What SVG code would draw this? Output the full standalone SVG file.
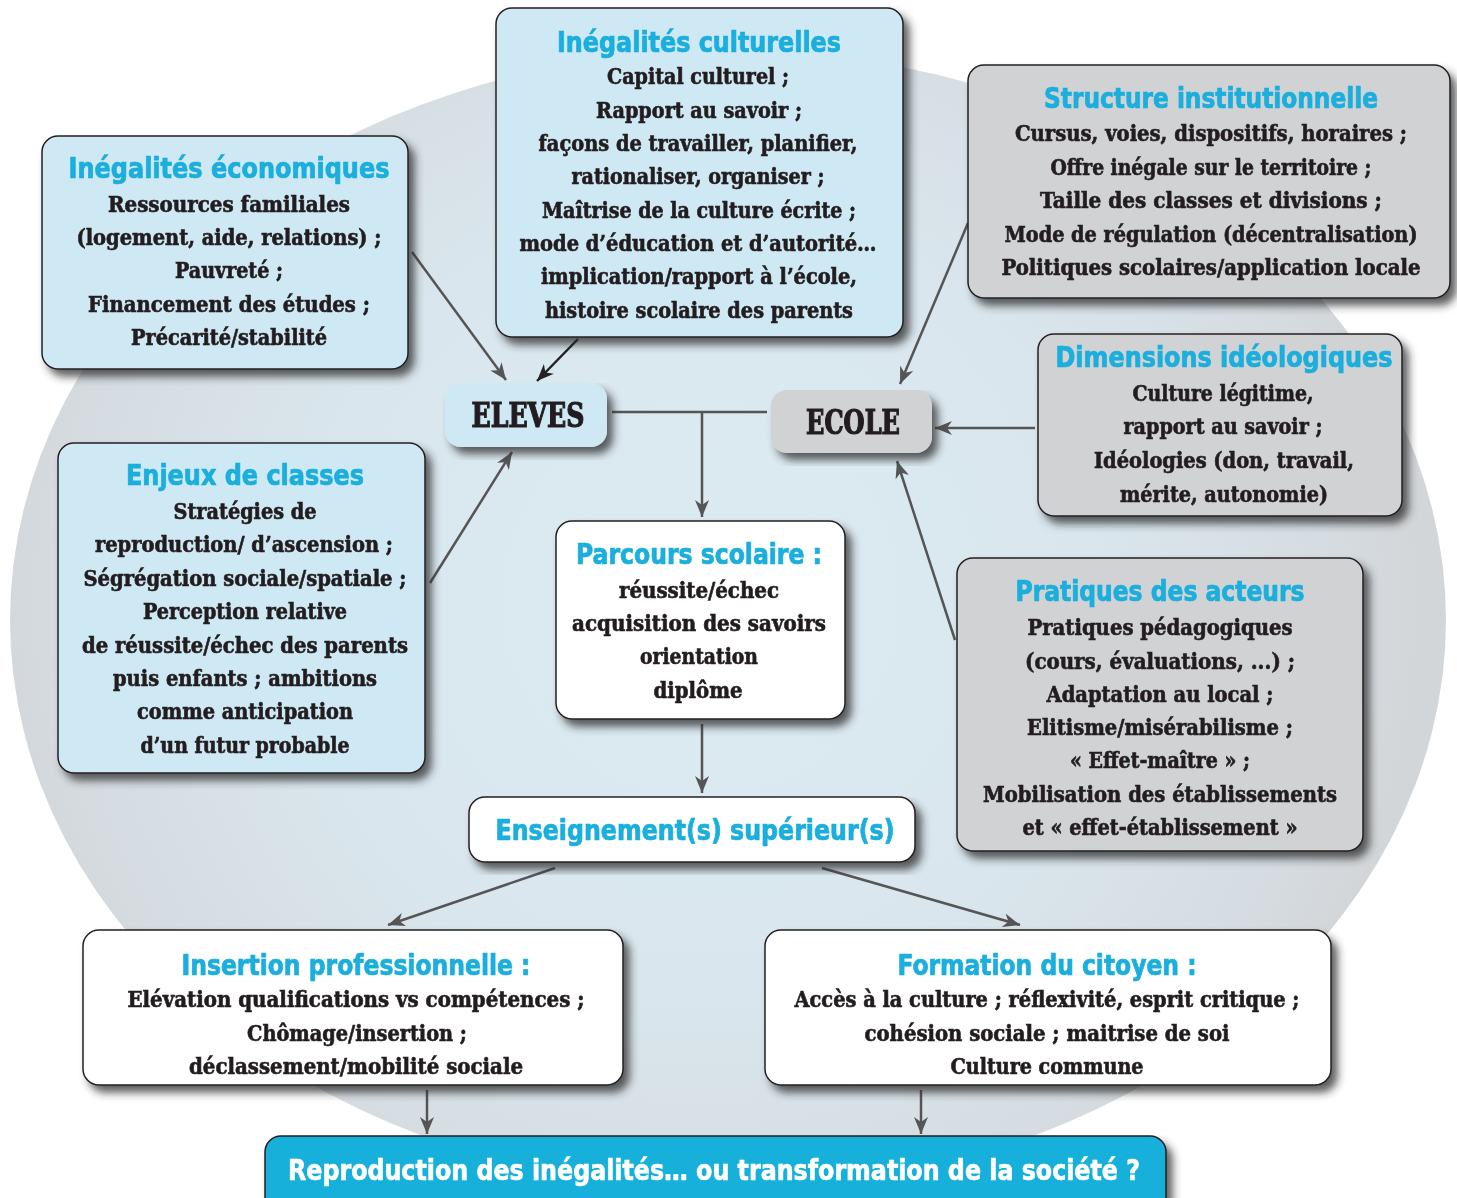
<svg xmlns="http://www.w3.org/2000/svg" width="1457" height="1198" viewBox="0 0 1457 1198">
<defs>
  <radialGradient id="bg" cx="700" cy="600" r="720" gradientUnits="userSpaceOnUse">
    <stop offset="0" stop-color="#dcebf3"/>
    <stop offset="0.55" stop-color="#d9e6ed"/>
    <stop offset="0.85" stop-color="#d6dde2"/>
    <stop offset="1" stop-color="#d3d6d9"/>
  </radialGradient>
  <filter id="sh" x="-10%" y="-10%" width="125%" height="130%">
    <feGaussianBlur in="SourceAlpha" stdDeviation="4"/>
    <feOffset dx="6" dy="7" result="o"/>
    <feFlood flood-color="#2a2a2a" flood-opacity="0.75"/>
    <feComposite in2="o" operator="in"/>
    <feMerge><feMergeNode/><feMergeNode in="SourceGraphic"/></feMerge>
  </filter>
  <marker id="ah" markerUnits="userSpaceOnUse" markerWidth="18" markerHeight="14" refX="17" refY="7" orient="auto">
    <path d="M0,0 L17,7 L0,14 L5,7 z" fill="#555"/>
  </marker>
  <marker id="ahk" markerUnits="userSpaceOnUse" markerWidth="18" markerHeight="14" refX="17" refY="7" orient="auto">
    <path d="M0,0 L17,7 L0,14 L5,7 z" fill="#222"/>
  </marker>
  <style>
    .blue{fill:#cfe9f4;stroke:#231f20;stroke-width:1.5}
    .gray{fill:#d1d2d4;stroke:#231f20;stroke-width:1.5}
    .white{fill:#ffffff;stroke:#231f20;stroke-width:1.5}
    .t{font-family:"DejaVu Sans Condensed","DejaVu Sans",sans-serif;font-weight:bold;font-size:28px;fill:#1aaedc;stroke:#1aaedc;stroke-width:0.7px;text-anchor:middle}
    .b{font-family:"DejaVu Serif Condensed","DejaVu Serif",serif;font-weight:bold;font-size:22px;fill:#231f20;stroke:#231f20;stroke-width:0.6px;text-anchor:middle}
    .big{font-family:"DejaVu Serif Condensed","DejaVu Serif",serif;font-weight:bold;font-size:33px;fill:#231f20;stroke:#231f20;stroke-width:1.2px;text-anchor:middle}
    .w{font-family:"DejaVu Sans Condensed","DejaVu Sans",sans-serif;font-weight:bold;font-size:28px;fill:#ffffff;stroke:#ffffff;stroke-width:0.6px;text-anchor:middle}
    .c{stroke:#555;stroke-width:2.5;fill:none}
  </style>
</defs>

<rect width="1457" height="1198" fill="#ffffff"/>
<ellipse cx="728" cy="620" rx="718" ry="570" fill="url(#bg)"/>

<g id="connectors">
  <line class="c" x1="412" y1="252" x2="506" y2="380" marker-end="url(#ah)"/>
  <line class="c" x1="578" y1="339" x2="537" y2="381" style="stroke:#222" marker-end="url(#ahk)"/>
  <line class="c" x1="430" y1="583" x2="512" y2="452" marker-end="url(#ah)"/>
  <line class="c" x1="968" y1="223" x2="900" y2="384" marker-end="url(#ah)"/>
  <line class="c" x1="1035" y1="428" x2="935" y2="428" marker-end="url(#ah)"/>
  <line class="c" x1="955" y1="640" x2="897" y2="461" marker-end="url(#ah)"/>
  <line class="c" x1="612" y1="412" x2="767" y2="412"/>
  <line class="c" x1="702" y1="412" x2="702" y2="517" marker-end="url(#ah)"/>
  <line class="c" x1="702" y1="724" x2="702" y2="793" marker-end="url(#ah)"/>
  <line class="c" x1="555" y1="868" x2="388" y2="925" marker-end="url(#ah)"/>
  <line class="c" x1="822" y1="868" x2="1020" y2="925" marker-end="url(#ah)"/>
  <line class="c" x1="427" y1="1090" x2="427" y2="1134" marker-end="url(#ah)"/>
  <line class="c" x1="921" y1="1090" x2="921" y2="1134" marker-end="url(#ah)"/>
</g>

<g id="inegalites-economiques" filter="url(#sh)">
  <rect class="blue" x="42" y="136" width="366" height="233" rx="16"/>
  <text class="t" x="229" y="178" textLength="321" lengthAdjust="spacingAndGlyphs">Inégalités économiques</text>
  <text class="b" x="229" y="212" textLength="242" lengthAdjust="spacingAndGlyphs">Ressources familiales</text>
  <text class="b" x="229" y="245" textLength="305" lengthAdjust="spacingAndGlyphs">(logement, aide, relations) ;</text>
  <text class="b" x="229" y="278" textLength="108" lengthAdjust="spacingAndGlyphs">Pauvreté ;</text>
  <text class="b" x="229" y="312" textLength="282" lengthAdjust="spacingAndGlyphs">Financement des études ;</text>
  <text class="b" x="229" y="345" textLength="196" lengthAdjust="spacingAndGlyphs">Précarité/stabilité</text>
</g>

<g id="inegalites-culturelles" filter="url(#sh)">
  <rect class="blue" x="496" y="8" width="407" height="329" rx="16"/>
  <text class="t" x="699" y="52" textLength="284" lengthAdjust="spacingAndGlyphs">Inégalités culturelles</text>
  <text class="b" x="698" y="84" textLength="182" lengthAdjust="spacingAndGlyphs">Capital culturel ;</text>
  <text class="b" x="699" y="118" textLength="206" lengthAdjust="spacingAndGlyphs">Rapport au savoir ;</text>
  <text class="b" x="698" y="151" textLength="319" lengthAdjust="spacingAndGlyphs">façons de travailler, planifier,</text>
  <text class="b" x="698" y="184" textLength="253" lengthAdjust="spacingAndGlyphs">rationaliser, organiser ;</text>
  <text class="b" x="699" y="218" textLength="314" lengthAdjust="spacingAndGlyphs">Maîtrise de la culture écrite ;</text>
  <text class="b" x="698" y="251" textLength="357" lengthAdjust="spacingAndGlyphs">mode d’éducation et d’autorité…</text>
  <text class="b" x="699" y="284" textLength="316" lengthAdjust="spacingAndGlyphs">implication/rapport à l’école,</text>
  <text class="b" x="699" y="318" textLength="308" lengthAdjust="spacingAndGlyphs">histoire scolaire des parents</text>
</g>

<g id="structure-institutionnelle" filter="url(#sh)">
  <rect class="gray" x="968" y="65" width="482" height="233" rx="16"/>
  <text class="t" x="1211" y="108" textLength="334" lengthAdjust="spacingAndGlyphs">Structure institutionnelle</text>
  <text class="b" x="1211" y="141" textLength="392" lengthAdjust="spacingAndGlyphs">Cursus, voies, dispositifs, horaires ;</text>
  <text class="b" x="1211" y="175" textLength="321" lengthAdjust="spacingAndGlyphs">Offre inégale sur le territoire ;</text>
  <text class="b" x="1211" y="208" textLength="342" lengthAdjust="spacingAndGlyphs">Taille des classes et divisions ;</text>
  <text class="b" x="1211" y="242" textLength="413" lengthAdjust="spacingAndGlyphs">Mode de régulation (décentralisation)</text>
  <text class="b" x="1211" y="275" textLength="419" lengthAdjust="spacingAndGlyphs">Politiques scolaires/application locale</text>
</g>

<g id="dimensions-ideologiques" filter="url(#sh)">
  <rect class="gray" x="1038" y="334" width="364" height="182" rx="16"/>
  <text class="t" x="1224" y="367" textLength="337" lengthAdjust="spacingAndGlyphs">Dimensions idéologiques</text>
  <text class="b" x="1223" y="401" textLength="181" lengthAdjust="spacingAndGlyphs">Culture légitime,</text>
  <text class="b" x="1223" y="434" textLength="199" lengthAdjust="spacingAndGlyphs">rapport au savoir ;</text>
  <text class="b" x="1224" y="468" textLength="260" lengthAdjust="spacingAndGlyphs">Idéologies (don, travail,</text>
  <text class="b" x="1224" y="502" textLength="208" lengthAdjust="spacingAndGlyphs">mérite, autonomie)</text>
</g>

<g id="eleves" filter="url(#sh)">
  <rect x="445" y="383" width="162" height="64" rx="16" fill="#cfe9f4"/>
  <text class="big" x="528" y="427" textLength="113" lengthAdjust="spacingAndGlyphs">ELEVES</text>
</g>

<g id="ecole" filter="url(#sh)">
  <rect x="771" y="390" width="161" height="63" rx="16" fill="#d1d2d4"/>
  <text class="big" x="853" y="434" textLength="94" lengthAdjust="spacingAndGlyphs">ECOLE</text>
</g>

<g id="enjeux-de-classes" filter="url(#sh)">
  <rect class="blue" x="58" y="443" width="367" height="330" rx="16"/>
  <text class="t" x="245" y="485" textLength="238" lengthAdjust="spacingAndGlyphs">Enjeux de classes</text>
  <text class="b" x="245" y="519" textLength="143" lengthAdjust="spacingAndGlyphs">Stratégies de</text>
  <text class="b" x="244" y="552" textLength="298" lengthAdjust="spacingAndGlyphs">reproduction/ d’ascension ;</text>
  <text class="b" x="245" y="586" textLength="323" lengthAdjust="spacingAndGlyphs">Ségrégation sociale/spatiale ;</text>
  <text class="b" x="245" y="619" textLength="204" lengthAdjust="spacingAndGlyphs">Perception relative</text>
  <text class="b" x="245" y="653" textLength="326" lengthAdjust="spacingAndGlyphs">de réussite/échec des parents</text>
  <text class="b" x="245" y="686" textLength="264" lengthAdjust="spacingAndGlyphs">puis enfants ; ambitions</text>
  <text class="b" x="245" y="719" textLength="216" lengthAdjust="spacingAndGlyphs">comme anticipation</text>
  <text class="b" x="245" y="753" textLength="209" lengthAdjust="spacingAndGlyphs">d’un futur probable</text>
</g>

<g id="parcours-scolaire" filter="url(#sh)">
  <rect class="white" x="556" y="521" width="289" height="198" rx="16"/>
  <text class="t" x="699" y="564" textLength="246" lengthAdjust="spacingAndGlyphs">Parcours scolaire :</text>
  <text class="b" x="699" y="598" textLength="160" lengthAdjust="spacingAndGlyphs">réussite/échec</text>
  <text class="b" x="699" y="631" textLength="254" lengthAdjust="spacingAndGlyphs">acquisition des savoirs</text>
  <text class="b" x="699" y="664" textLength="118" lengthAdjust="spacingAndGlyphs">orientation</text>
  <text class="b" x="698" y="698" textLength="89" lengthAdjust="spacingAndGlyphs">diplôme</text>
</g>

<g id="pratiques-des-acteurs" filter="url(#sh)">
  <rect class="gray" x="957" y="558" width="406" height="293" rx="16"/>
  <text class="t" x="1160" y="601" textLength="289" lengthAdjust="spacingAndGlyphs">Pratiques des acteurs</text>
  <text class="b" x="1160" y="635" textLength="265" lengthAdjust="spacingAndGlyphs">Pratiques pédagogiques</text>
  <text class="b" x="1160" y="669" textLength="270" lengthAdjust="spacingAndGlyphs">(cours, évaluations, ...) ;</text>
  <text class="b" x="1160" y="702" textLength="227" lengthAdjust="spacingAndGlyphs">Adaptation au local ;</text>
  <text class="b" x="1160" y="735" textLength="266" lengthAdjust="spacingAndGlyphs">Elitisme/misérabilisme ;</text>
  <text class="b" x="1160" y="768" textLength="180" lengthAdjust="spacingAndGlyphs">« Effet-maître » ;</text>
  <text class="b" x="1160" y="802" textLength="354" lengthAdjust="spacingAndGlyphs">Mobilisation des établissements</text>
  <text class="b" x="1160" y="835" textLength="275" lengthAdjust="spacingAndGlyphs">et « effet-établissement »</text>
</g>

<g id="enseignement-superieur" filter="url(#sh)">
  <rect class="white" x="469" y="797" width="446" height="65" rx="16"/>
  <text class="t" x="695" y="840" textLength="399" lengthAdjust="spacingAndGlyphs">Enseignement(s) supérieur(s)</text>
</g>

<g id="insertion-professionnelle" filter="url(#sh)">
  <rect class="white" x="83" y="930" width="540" height="155" rx="16"/>
  <text class="t" x="356" y="975" textLength="349" lengthAdjust="spacingAndGlyphs">Insertion professionnelle :</text>
  <text class="b" x="356" y="1007" textLength="457" lengthAdjust="spacingAndGlyphs">Elévation qualifications vs compétences ;</text>
  <text class="b" x="357" y="1041" textLength="220" lengthAdjust="spacingAndGlyphs">Chômage/insertion ;</text>
  <text class="b" x="356" y="1074" textLength="334" lengthAdjust="spacingAndGlyphs">déclassement/mobilité sociale</text>
</g>

<g id="formation-du-citoyen" filter="url(#sh)">
  <rect class="white" x="765" y="930" width="566" height="155" rx="16"/>
  <text class="t" x="1047" y="975" textLength="299" lengthAdjust="spacingAndGlyphs">Formation du citoyen :</text>
  <text class="b" x="1047" y="1007" textLength="505" lengthAdjust="spacingAndGlyphs">Accès à la culture ; réflexivité, esprit critique ;</text>
  <text class="b" x="1047" y="1041" textLength="365" lengthAdjust="spacingAndGlyphs">cohésion sociale ; maitrise de soi</text>
  <text class="b" x="1047" y="1074" textLength="193" lengthAdjust="spacingAndGlyphs">Culture commune</text>
</g>

<g id="reproduction" filter="url(#sh)">
  <rect x="265" y="1136" width="901" height="80" rx="16" fill="#14b0da" stroke="#231f20" stroke-width="1.5"/>
  <text class="w" x="714" y="1180" textLength="852" lengthAdjust="spacingAndGlyphs">Reproduction des inégalités… ou transformation de la société ?</text>
</g>
</svg>
